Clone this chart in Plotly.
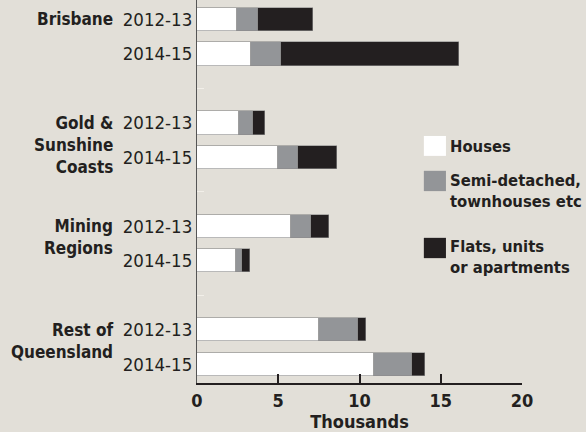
import plotly.graph_objects as go

regions = ["Brisbane", "Gold &<br>Sunshine<br>Coasts", "Mining<br>Regions", "Rest of<br>Queensland"]
periods = ["2012-13", "2014-15"]
series_names = ["Houses", "Semi-detached,<br>townhouses etc", "Flats, units<br>or apartments"]
houses = [2.46, 3.32, 2.56, 5.00, 5.78, 2.40, 7.51, 10.87]
semi = [1.31, 1.83, 0.91, 1.24, 1.24, 0.37, 2.40, 2.38]
flats = [3.35, 10.99, 0.74, 2.36, 1.12, 0.49, 0.49, 0.75]
x_ticks = [0, 5, 10, 15, 20]

INK = "#231f20"
BG = "#e2dfd8"
colors = ["#ffffff", "#939598", INK]
FONT = "DejaVu Sans Condensed"

# row positions: two bars per region, one empty slot between regions
ypos = [r * 3 + p for r in range(len(regions)) for p in range(len(periods))]
ylabels = [periods[p] for r in range(len(regions)) for p in range(len(periods))]
gaps = [r * 3 + 2 for r in range(len(regions) - 1)]

fig = go.Figure()
for name, vals, col in zip(series_names, [houses, semi, flats], colors):
    fig.add_trace(go.Bar(
        x=vals, y=ypos, orientation="h", name=name, width=0.67,
        marker=dict(color=col, line=dict(color="#8a8a8a", width=0.6)),
        showlegend=False, hoverinfo="skip",
    ))

# region labels
for r, reg in enumerate(regions):
    fig.add_annotation(
        text=f"<b>{reg}</b>", x=-0.252, xref="paper", y=r * 3, yref="y",
        xanchor="right", yanchor="top", yshift=12, align="right", showarrow=False,
        font=dict(family=FONT, size=17, color=INK),
    )

# legend drawn as swatches + labels
leg_y = [(0.593, 0.645), (0.501, 0.554), (0.326, 0.379)]
leg_txt_y = [0.617, 0.501, 0.329]
for name, col, (y0, y1), ty in zip(series_names, colors, leg_y, leg_txt_y):
    fig.add_shape(type="rect", xref="paper", yref="paper", x0=0.698, x1=0.766, y0=y0, y1=y1,
                  fillcolor=col, line=dict(width=0))
    fig.add_annotation(text=f"<b>{name}</b>", xref="paper", yref="paper", x=0.772, y=ty,
                       xanchor="left", yanchor="middle", align="left", showarrow=False,
                       font=dict(family=FONT, size=16.5, color=INK))

fig.update_layout(
    barmode="stack",
    width=586, height=432,
    margin=dict(l=197, r=64, t=0, b=49, autoexpand=False),
    paper_bgcolor=BG, plot_bgcolor=BG,
    font=dict(family=FONT, size=18, color=INK),
    bargap=0,
)
fig.update_xaxes(
    range=[0, 20], tickvals=x_ticks, ticktext=[f"<b>{v}</b>" for v in x_ticks],
    showline=True, linecolor=INK, linewidth=2, ticks="inside", ticklen=9, tickwidth=2,
    tickcolor=INK, showgrid=False, zeroline=False, automargin=False,
    title=dict(text="<b>Thousands</b>", font=dict(size=18)),
    tickfont=dict(size=18),
)
fig.update_yaxes(
    range=[10.54, -0.565], tickvals=ypos, ticktext=ylabels, automargin=False,
    showline=True, linecolor="#555555", linewidth=1, ticks="", showgrid=False, zeroline=False,
    tickfont=dict(size=18.5), ticklabelstandoff=0,
    minor=dict(tickvals=gaps, ticks="inside", ticklen=7, tickcolor="#f2efe9", tickwidth=1),
)

fig.write_html("out.html", config={"displayModeBar": False},
               post_script="document.body.style.margin='0';")
